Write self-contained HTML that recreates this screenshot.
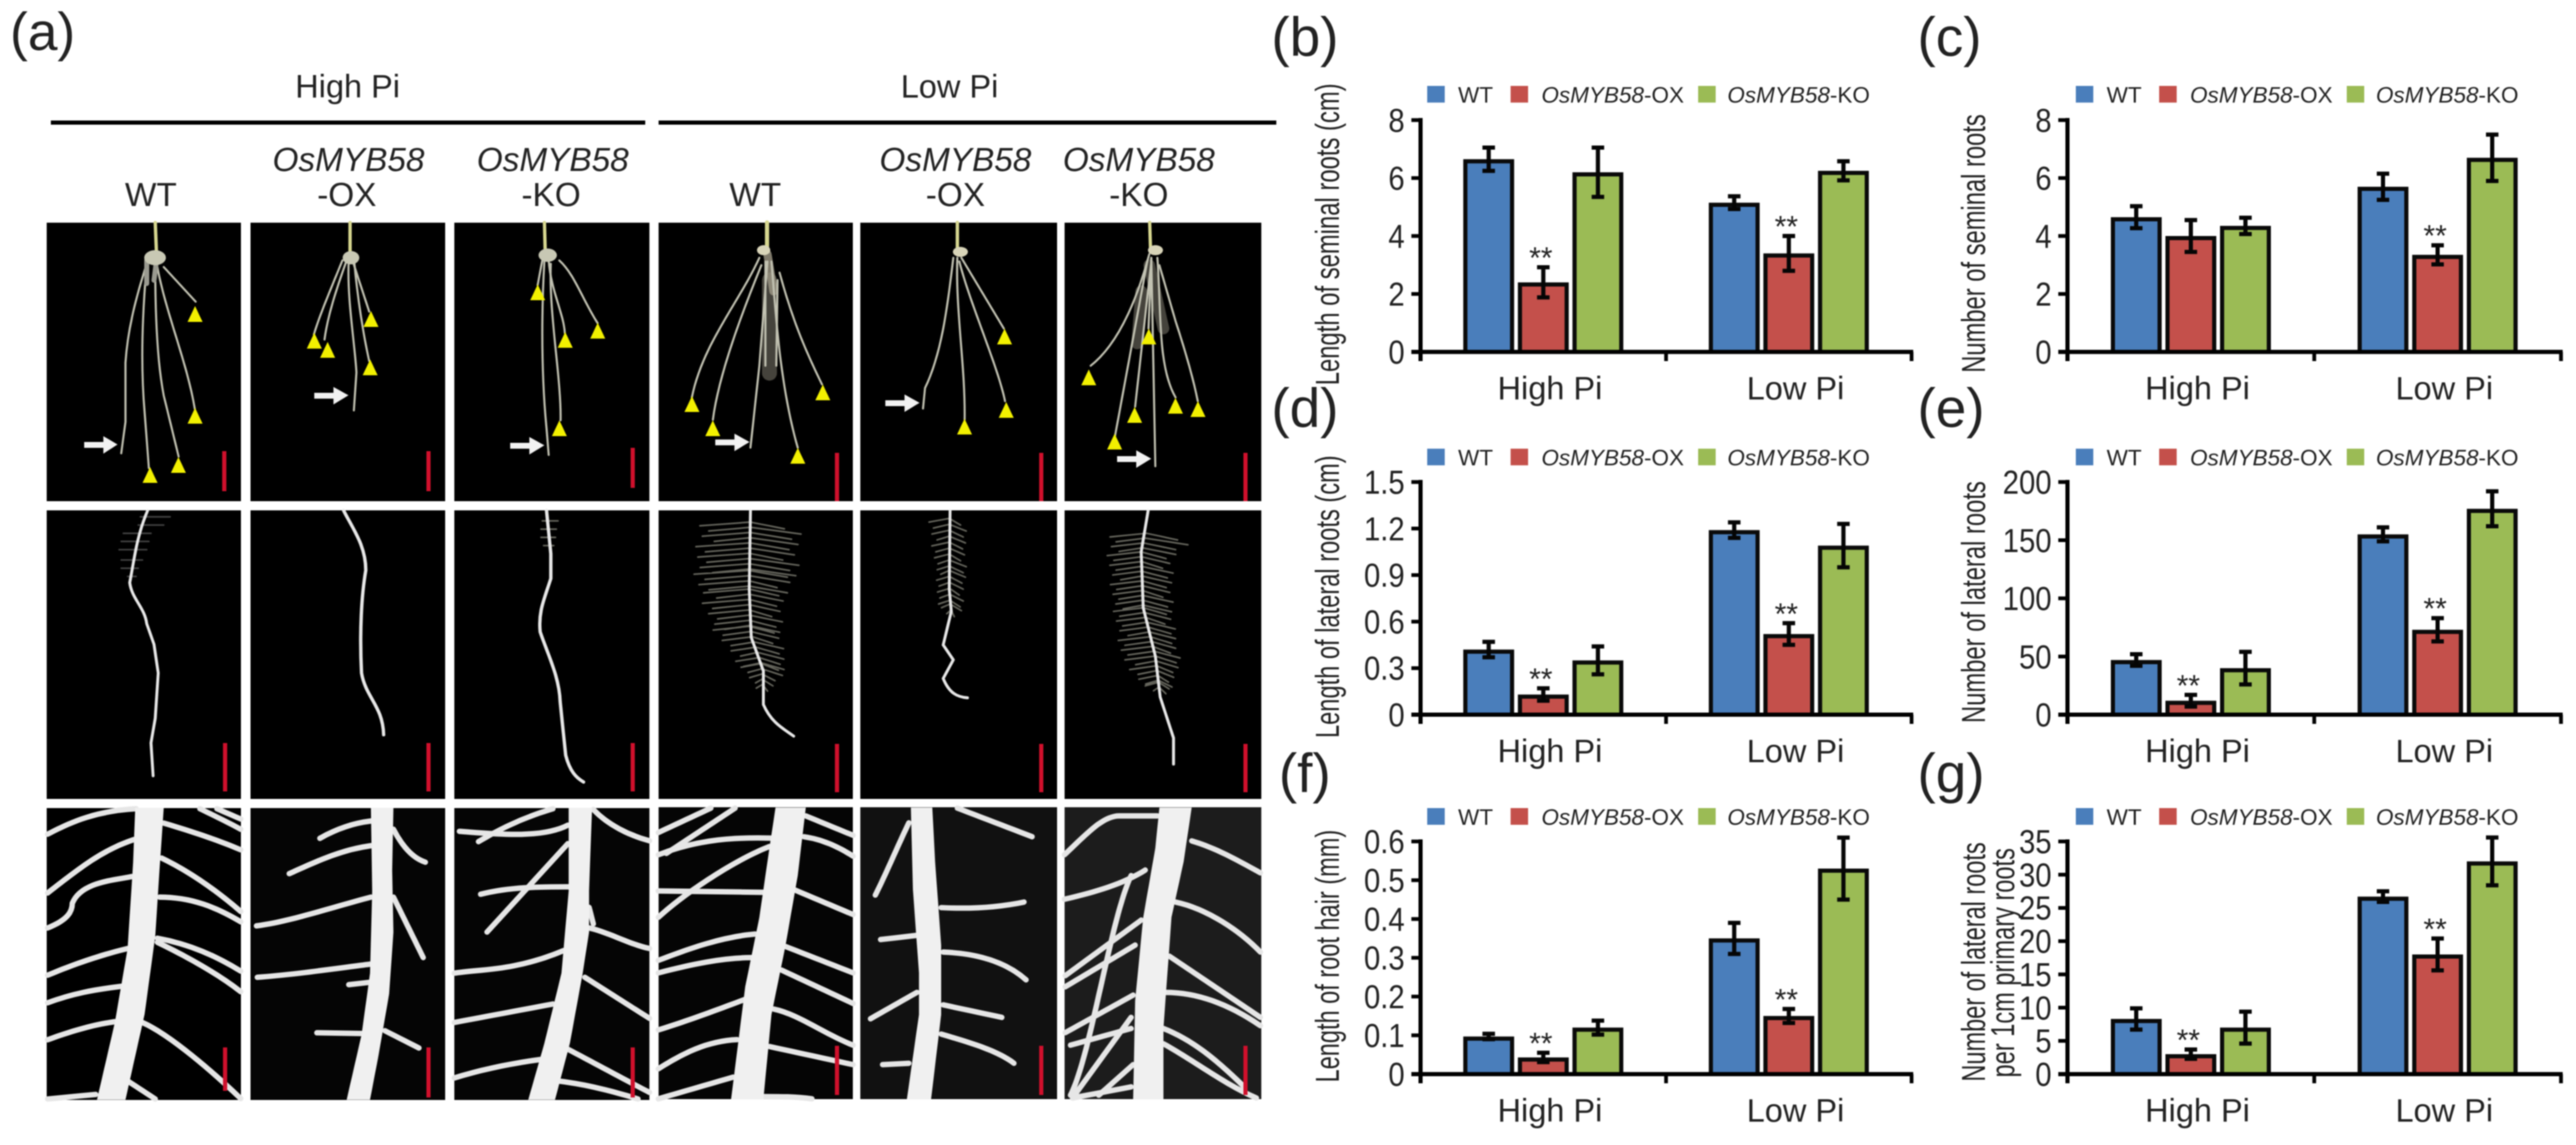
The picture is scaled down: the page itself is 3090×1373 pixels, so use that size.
<!DOCTYPE html>
<html lang="en">
<head>
<meta charset="utf-8">
<title>OsMYB58 root phenotype figure</title>
<style>
html,body{margin:0;padding:0;background:#fff;width:3090px;height:1373px;overflow:hidden}
svg{position:absolute;left:0;top:0;filter:blur(.8px)}
text{font-family:"Liberation Sans",sans-serif;fill:#222}
.r1 path,.r2 path,.r3 path,.hair{fill:none;stroke-linecap:round;stroke-linejoin:round;vector-effect:non-scaling-stroke}
.r1 path{stroke:#c2c2b2;stroke-width:2.5}
.r2 path{stroke:#e8e8e8;stroke-width:3.5}
.r3 path{stroke:#e6e6e6;stroke-width:6.5}
.r2 path.hair,.r2 .hair{stroke:#b8b8a8;stroke-width:2;opacity:.55}
.main{fill:#f0f0f0;stroke:none}
.mk{fill:#f2f000}
.sc{fill:#d0102c}
.ar{fill:#f2f2f2}
</style>
</head>
<body>
<svg id="figure" xmlns="http://www.w3.org/2000/svg" width="3090" height="1373" viewBox="0 0 3090 1373">
<rect width="3090" height="1373" fill="#fff"/>

<g>
<text x="12" y="60" font-size="64">(a)</text>
<text x="417" y="117" font-size="39" text-anchor="middle">High Pi</text>
<text x="1139" y="117" font-size="39" text-anchor="middle">Low Pi</text>
<rect x="61" y="144.500" width="713" height="5" fill="#000"/>
<rect x="790" y="144.500" width="741" height="5" fill="#000"/>
<text x="181" y="247" font-size="40" text-anchor="middle">WT</text>
<text x="418" y="205" font-size="40" text-anchor="middle" font-style="italic">OsMYB58</text>
<text x="416" y="247" font-size="40" text-anchor="middle">-OX</text>
<text x="663" y="205" font-size="40" text-anchor="middle" font-style="italic">OsMYB58</text>
<text x="661" y="247" font-size="40" text-anchor="middle">-KO</text>
<text x="906" y="247" font-size="40" text-anchor="middle">WT</text>
<text x="1146" y="205" font-size="40" text-anchor="middle" font-style="italic">OsMYB58</text>
<text x="1146" y="247" font-size="40" text-anchor="middle">-OX</text>
<text x="1366" y="205" font-size="40" text-anchor="middle" font-style="italic">OsMYB58</text>
<text x="1366" y="247" font-size="40" text-anchor="middle">-KO</text>

<!-- ROW 1: whole root systems -->
<g>
<rect x="56" y="267" width="233" height="334" fill="#000"/>
<g class="r1" transform="scale(.5102,.3953)">
<path style="stroke:#d8d890;stroke-width:4" d="M365 675L368 770"/>
<path d="M345 800C320 900 300 1000 295 1100L295 1280L285 1375"/>
<path d="M345 800C335 950 330 1100 340 1250L350 1420"/>
<path d="M365 810C365 950 370 1100 385 1200L420 1385"/>
<path d="M370 810C390 950 440 1100 458 1240"/>
<path d="M385 810L460 915"/>
<path style="stroke:#9a9a90;stroke-width:6" d="M345 790L345 860M368 790L362 850"/>
</g>
<ellipse cx="186" cy="309" rx="13" ry="9" fill="#c8c8b4"/>
<polygon class="mk" points="234,367 243,386 225,386"/><polygon class="mk" points="234,489 243,508 225,508"/><polygon class="mk" points="214,548 223,567 205,567"/><polygon class="mk" points="180,560 189,579 171,579"/>
<polygon class="ar" points="101,530 124,530 124,523 141,533 124,544 124,537 101,537"/>
<rect class="sc" x="266.500" y="541" width="5" height="48"/>
</g>

<g>
<rect x="300.500" y="267" width="233.500" height="334" fill="#000"/>
<g class="r1" transform="scale(.5102,.3953)">
<path style="stroke:#d8d890;stroke-width:4" d="M823 675L823 770"/>
<path d="M805 790C780 870 750 960 738 1015"/>
<path d="M815 790C790 880 770 960 763 1030"/>
<path d="M820 790C815 900 835 1050 838 1130L832 1245"/>
<path d="M830 795L868 945"/>
<path d="M833 795C840 900 855 1020 868 1095"/>
</g>
<ellipse cx="421" cy="309" rx="10" ry="8" fill="#c8c8b4"/>
<polygon class="mk" points="445,373 454,392 436,392"/><polygon class="mk" points="377,399 386,418 368,418"/><polygon class="mk" points="393,410 402,429 384,429"/><polygon class="mk" points="444,431 453,450 435,450"/>
<polygon class="ar" points="377,471 400,471 400,464 418,474 400,485 400,478 377,478"/>
<rect class="sc" x="511.500" y="541" width="5" height="48"/>
</g>

<g>
<rect x="545" y="267" width="234" height="334" fill="#000"/>
<g class="r1" transform="scale(.5102,.3953)">
<path style="stroke:#d8d890;stroke-width:4" d="M1280 675L1282 770"/>
<path d="M1275 790L1264 865"/>
<path d="M1280 790C1275 900 1270 1100 1285 1300L1290 1380"/>
<path d="M1290 790C1295 880 1325 950 1328 1010"/>
<path d="M1295 800C1290 950 1320 1150 1318 1275"/>
<path d="M1315 790C1350 830 1370 910 1405 980"/>
</g>
<ellipse cx="657" cy="306" rx="11" ry="8" fill="#c8c8b4"/>
<polygon class="mk" points="645,341 654,360 636,360"/><polygon class="mk" points="717,387 726,406 708,406"/><polygon class="mk" points="678,398 687,417 669,417"/><polygon class="mk" points="671,504 680,523 662,523"/>
<polygon class="ar" points="612,531 635,531 635,524 653,534 635,545 635,538 612,538"/>
<rect class="sc" x="756.500" y="537" width="5" height="48"/>
</g>

<g>
<rect x="790" y="267" width="233" height="334" fill="#000"/>
<g class="r1" transform="translate(780,260) scale(.4847,.4464)">
<path style="stroke:#d8d890;stroke-width:5" d="M289 15L289 85"/>
<path style="stroke:#8a8578;stroke-width:18;opacity:.5" d="M295 170L295 420"/>
<path style="stroke:#a09a88;stroke-width:10;opacity:.8" d="M290 100L305 200"/>
<path d="M270 110C220 230 130 340 103 485"/>
<path d="M275 130C230 250 170 420 155 545"/>
<path d="M290 120L270 400L248 620"/>
<path d="M300 120C310 250 320 450 365 620"/>
<path d="M320 150C350 270 380 350 425 450"/>
<path d="M285 120L285 400M315 170L312 400"/>
</g>
<ellipse cx="916" cy="300" rx="8" ry="6" fill="#d8d4b8"/>
<polygon class="mk" points="830,475 839,494 821,494"/><polygon class="mk" points="855,504 864,523 846,523"/><polygon class="mk" points="987,461 996,480 978,480"/><polygon class="mk" points="957,537 966,556 948,556"/>
<polygon class="ar" points="858,527 881,527 881,520 899,530 881,541 881,534 858,534"/>
<rect class="sc" x="1001.500" y="543" width="5" height="58"/>
</g>

<g>
<rect x="1032" y="267" width="236" height="334" fill="#000"/>
<g class="r1" transform="translate(780,260) scale(.4847,.4464)">
<path style="stroke:#d8d890;stroke-width:4" d="M760 15L760 85"/>
<path d="M750 110C735 250 720 370 680 460L675 515"/>
<path d="M760 110C755 250 780 400 778 545"/>
<path d="M765 120C790 230 860 400 878 495"/>
<path d="M770 110L875 300"/>
</g>
<ellipse cx="1152" cy="302" rx="9" ry="6" fill="#d8d4b8"/>
<polygon class="mk" points="1205,394 1214,413 1196,413"/><polygon class="mk" points="1207,482 1216,501 1198,501"/><polygon class="mk" points="1157,502 1166,521 1148,521"/>
<polygon class="ar" points="1062,480 1085,480 1085,473 1103,483 1085,494 1085,487 1062,487"/>
<rect class="sc" x="1246.500" y="543" width="5" height="58"/>
</g>

<g>
<rect x="1277" y="267" width="236" height="334" fill="#000"/>
<g class="r1" transform="translate(780,260) scale(.4847,.4464)">
<path style="stroke:#d8d890;stroke-width:4" d="M1236 15L1238 85"/>
<path style="stroke:#8a8578;stroke-width:14;opacity:.5" d="M1235 130L1270 300M1215 200L1205 340"/>
<path d="M1235 100C1205 220 1160 340 1090 400"/>
<path d="M1230 120L1150 590"/>
<path d="M1240 120L1200 510"/>
<path d="M1240 110L1233 300"/>
<path d="M1240 110L1250 670"/>
<path d="M1255 110C1265 250 1255 400 1300 485"/>
<path d="M1260 130L1300 280C1330 380 1345 440 1355 495"/>
</g>
<ellipse cx="1386" cy="300" rx="9" ry="6" fill="#d8d4b8"/>
<polygon class="mk" points="1378,394 1387,413 1369,413"/><polygon class="mk" points="1306,443 1315,462 1297,462"/><polygon class="mk" points="1361,488 1370,507 1352,507"/><polygon class="mk" points="1410,477 1419,496 1401,496"/><polygon class="mk" points="1437,481 1446,500 1428,500"/><polygon class="mk" points="1337,520 1346,539 1328,539"/>
<polygon class="ar" points="1340,547 1363,547 1363,540 1381,550 1363,561 1363,554 1340,554"/>
<rect class="sc" x="1491.500" y="543" width="5" height="58"/>
</g>

<!-- ROW 2: primary roots -->
<g>
<rect x="56" y="612" width="233" height="346" fill="#000"/>
<g class="r2" transform="translate(0,600) scale(.5102,.493)">
<path class="hair" style="stroke:#777;stroke-width:2" d="M330 40H400M325 60H385M290 80H355M285 100H350M280 120H345M285 145H335M285 165H325M300 185H320"/>
<path d="M347 25C320 90 315 150 305 200C310 240 340 260 345 300L362 350L372 420L365 530L355 590L360 670"/>
</g>
<rect class="sc" x="267.500" y="891" width="5" height="58"/>
</g>
<g>
<rect x="300.500" y="612" width="233.500" height="346" fill="#000"/>
<g class="r2" transform="translate(0,600) scale(.5102,.493)">
<path style="stroke-width:4" d="M808 25C830 70 860 110 860 170C850 230 845 320 850 420C860 480 900 500 902 570"/>
</g>
<rect class="sc" x="511.500" y="891" width="5" height="58"/>
</g>
<g>
<rect x="545" y="612" width="234" height="346" fill="#000"/>
<g class="r2" transform="translate(0,600) scale(.5102,.493)">
<path class="hair" d="M1275 50H1312M1272 70H1308M1272 90H1306M1278 110H1302"/>
<path style="stroke-width:4" d="M1285 25L1295 130L1295 190C1280 240 1265 270 1270 320C1290 380 1315 430 1317 490L1330 620C1340 660 1355 675 1372 685"/>
</g>
<rect class="sc" x="756.500" y="891" width="5" height="58"/>
</g>
<g>
<rect x="790" y="612" width="233" height="346" fill="#000"/>
<g class="r2" transform="translate(780,260) scale(.4847,.4464)">
<path class="hair" id="fish-wt" d=""/>
<path d="M248 790L245 1000L250 1130L280 1220L280 1310C300 1360 330 1375 355 1395"/>
</g>
<rect class="sc" x="1001.500" y="892" width="5" height="58"/>
</g>
<g>
<rect x="1032" y="612" width="236" height="346" fill="#000"/>
<g class="r2" transform="translate(780,260) scale(.4847,.4464)">
<path class="hair" id="fish-ox" d=""/>
<path d="M742 790L740 1000L745 1060L725 1150L750 1190L725 1240C740 1280 760 1290 785 1292"/>
</g>
<rect class="sc" x="1246.500" y="892" width="5" height="58"/>
</g>
<g>
<rect x="1277" y="612" width="236" height="346" fill="#000"/>
<g class="r2" transform="translate(780,260) scale(.4847,.4464)">
<path class="hair" id="fish-ko" d=""/>
<path d="M1232 790L1215 900L1220 1050L1250 1180L1262 1290L1295 1400L1295 1470"/>
</g>
<rect class="sc" x="1491.500" y="892" width="5" height="58"/>
</g>

<!-- ROW 3: close-ups -->
<g>
<rect x="56" y="969" width="233" height="350" fill="#000"/>
<g class="r3" transform="translate(0,600) scale(.5102,.493)">
<path d="M112 812C170 780 230 755 320 750"/><path d="M112 955C180 900 240 850 315 825"/><path d="M112 1040C160 1020 170 1000 170 980C190 930 260 925 310 915"/><path d="M112 1155C180 1125 240 1105 300 1090"/><path d="M112 1222C170 1200 220 1190 285 1182"/><path d="M112 1312C170 1290 220 1275 270 1268"/><path d="M112 1456L225 1445"/>
<path d="M385 785C450 805 510 825 566 850"/><path d="M470 750C510 770 540 785 566 800"/><path d="M510 750L566 775"/><path d="M380 870C450 905 510 950 566 1000"/><path d="M375 965C450 965 510 990 566 1025"/><path d="M370 1065C450 1080 510 1110 566 1145"/><path d="M370 1075C440 1110 510 1150 566 1195"/><path d="M335 1270C400 1300 500 1390 566 1455"/><path d="M300 1412L365 1456"/>
<polygon class="main" points="318,748 385,748 375,900 365,1060 340,1250 295,1458 228,1458 270,1270 300,1090 313,880"/>
</g>
<rect class="sc" x="267.500" y="1256" width="5" height="52"/>
</g>
<g>
<rect x="300.500" y="969" width="233.500" height="350" fill="#050505"/>
<g class="r3" transform="translate(0,600) scale(.5102,.493)">
<path d="M752 822C790 800 830 785 872 780"/><path d="M680 908C740 880 800 850 872 840"/><path d="M603 1035C680 1025 780 990 872 965"/><path d="M605 1160C680 1155 780 1140 870 1128"/><path d="M820 1178L870 1172"/><path d="M745 1295L860 1297"/>
<path d="M925 800C945 840 970 870 1000 880"/><path d="M925 965L995 1112"/><path d="M905 1290L985 1332"/>
<polygon class="main" points="872,748 925,748 922,900 925,1050 915,1200 890,1350 870,1458 815,1458 850,1300 870,1150 875,950"/>
</g>
<rect class="sc" x="511.500" y="1256" width="5" height="60"/>
</g>
<g>
<rect x="545" y="969" width="234" height="350" fill="#050505"/>
<g class="r3" transform="translate(0,600) scale(.5102,.493)">
<path d="M1080 805C1150 810 1270 825 1335 790"/><path d="M1125 830C1190 790 1250 765 1300 750"/><path d="M1130 958C1200 940 1270 940 1340 940"/><path d="M1145 1050L1335 835"/><path d="M1068 1150C1130 1140 1210 1145 1325 1095"/><path d="M1068 1270L1300 1225"/><path d="M1068 1405C1130 1385 1200 1370 1270 1360"/>
<path d="M1395 752C1430 790 1480 815 1527 828"/><path d="M1385 1040C1430 1050 1480 1080 1527 1090"/><path d="M1385 990L1395 1030"/><path d="M1375 1160L1527 1260"/><path d="M1335 1335C1400 1370 1470 1410 1527 1440"/><path d="M1310 1412C1380 1420 1450 1440 1500 1456"/>
<polygon class="main" points="1337,748 1392,748 1385,950 1385,1050 1370,1150 1340,1320 1305,1458 1242,1458 1280,1320 1320,1150 1337,950"/>
</g>
<rect class="sc" x="756.500" y="1256" width="5" height="60"/>
</g>
<g>
<rect x="790" y="968" width="233" height="350" fill="#050505"/>
<g class="r3" transform="translate(780,900) scale(.4847,.3333)">
<path d="M20 295L150 207"/><path d="M40 370L210 207"/><path d="M20 375C100 330 180 310 300 315"/><path d="M20 600C80 520 200 400 295 345"/><path d="M20 505L280 510"/><path d="M20 755C100 710 180 670 260 660"/><path d="M20 800C100 770 180 745 250 745"/><path d="M20 1005C100 970 170 930 235 895"/><path d="M20 1145C80 1090 140 1045 215 1040"/><path d="M20 1253L205 1175"/>
<path d="M385 235L502 305"/><path d="M380 310C430 320 470 350 502 380"/><path d="M355 500L502 590"/><path d="M335 705L502 800"/><path d="M325 790L502 910"/><path d="M305 930C370 950 430 1020 502 1060"/><path d="M295 1065L502 1130"/><path d="M280 1245C320 1245 360 1245 400 1253"/>
<polygon class="main" points="310,205 385,205 365,450 335,700 300,950 280,1255 200,1255 235,850 270,600 295,350"/>
</g>
<rect class="sc" x="1001.500" y="1254" width="5" height="59"/>
</g>
<g>
<rect x="1032" y="968" width="236" height="350" fill="#111"/>
<g class="r3" transform="translate(780,900) scale(.4847,.3333)">
<path d="M640 260C610 350 585 440 557 520"/><path d="M720 565C790 570 860 565 925 545"/><path d="M570 680L660 665"/><path d="M725 725C810 730 880 760 930 825"/><path d="M545 965L660 870"/><path d="M725 915L870 960"/><path d="M720 1020C790 1050 860 1080 900 1125"/><path d="M575 1130L640 1125"/><path d="M760 207L945 310"/>
<polygon class="main" points="645,205 698,205 705,400 720,700 720,950 695,1255 635,1255 665,950 665,800 650,500"/>
</g>
<rect class="sc" x="1246.500" y="1254" width="5" height="59"/>
</g>
<g>
<rect x="1277" y="968" width="236" height="350" fill="#1c1c1c"/>
<g class="r3" transform="translate(780,900) scale(.4847,.3333)">
<path d="M1025 375C1080 300 1120 235 1160 235L1255 235"/><path d="M1025 535C1100 510 1170 480 1225 430"/><path d="M1340 325C1400 350 1460 400 1510 440"/><path d="M1300 545C1380 570 1460 650 1510 725"/><path d="M1285 740L1510 960"/><path d="M1275 870C1360 870 1440 920 1510 990"/><path d="M1270 1000C1340 1040 1400 1110 1470 1210"/><path d="M1270 1055C1340 1110 1420 1200 1500 1250"/>
<path d="M1040 1240C1090 1100 1140 600 1190 450"/><path d="M1027 810L1215 610"/><path d="M1027 850L1200 700"/><path d="M1027 1015L1195 880"/><path d="M1040 1060L1190 1000"/><path d="M1050 1240L1190 960"/><path d="M1045 1250L1190 1210"/><path d="M1110 1240L1195 1130"/>
<polygon class="main" points="1260,205 1340,205 1320,400 1290,600 1280,800 1270,1000 1270,1255 1195,1255 1200,900 1220,600 1250,350"/>
</g>
<rect class="sc" x="1491.500" y="1254" width="5" height="59"/>
</g>
</g>

<text x="1525" y="67" font-size="66">(b)</text>
<text x="2300" y="67" font-size="66">(c)</text>
<text x="1525" y="512" font-size="66">(d)</text>
<text x="2300" y="512" font-size="66">(e)</text>
<text x="1534" y="950" font-size="66">(f)</text>
<text x="2300" y="950" font-size="66">(g)</text>
</svg>

<script>
// ---- shared categories and series ----
const categories = ['High Pi', 'Low Pi'];
const seriesNames = ['WT', 'OsMYB58-OX', 'OsMYB58-KO'];
const seriesColors = ['#4a7ebb', '#c4504b', '#9bbb55'];
const seriesKeys = ['wt', 'ox', 'ko'];

// ---- (b) length of seminal roots ----
const ticksB = ['0', '2', '4', '6', '8'];
const wtB = [6.65, 5.15];
const oxB = [2.4, 3.4];
const koB = [6.2, 6.25];
const wtErrB = [0.4, 0.22];
const oxErrB = [0.52, 0.6];
const koErrB = [0.85, 0.33];
const starsB = [1, 1];

// ---- (c) number of seminal roots ----
const ticksC = ['0', '2', '4', '6', '8'];
const wtC = [4.65, 5.7];
const oxC = [4.0, 3.35];
const koC = [4.35, 6.7];
const wtErrC = [0.38, 0.45];
const oxErrC = [0.55, 0.33];
const koErrC = [0.28, 0.8];
const starsC = [0, 1];

// ---- (d) length of lateral roots ----
const ticksD = ['0', '0.3', '0.6', '0.9', '1.2', '1.5'];
const wtD = [0.42, 1.19];
const oxD = [0.13, 0.52];
const koD = [0.35, 1.09];
const wtErrD = [0.05, 0.05];
const oxErrD = [0.04, 0.07];
const koErrD = [0.09, 0.14];
const starsD = [1, 1];

// ---- (e) number of lateral roots ----
const ticksE = ['0', '50', '100', '150', '200'];
const wtE = [47, 155];
const oxE = [12, 73];
const koE = [40, 177];
const wtErrE = [5, 6];
const oxErrE = [5, 10];
const koErrE = [14, 15];
const starsE = [1, 1];

// ---- (f) length of root hair ----
const ticksF = ['0', '0.1', '0.2', '0.3', '0.4', '0.5', '0.6'];
const wtF = [0.097, 0.35];
const oxF = [0.043, 0.15];
const koF = [0.12, 0.53];
const wtErrF = [0.007, 0.04];
const oxErrF = [0.012, 0.018];
const koErrF = [0.018, 0.08];
const starsF = [1, 1];

// ---- (g) lateral roots per 1 cm primary root ----
const ticksG = ['0', '5', '10', '15', '20', '25', '30', '35'];
const wtG = [8.3, 26.7];
const oxG = [3.0, 18];
const koG = [7.0, 32];
const wtErrG = [1.6, 0.8];
const oxErrG = [0.7, 2.4];
const koErrG = [2.4, 3.6];
const starsG = [1, 1];

const SVGNS = 'http://www.w3.org/2000/svg';
const figure = document.getElementById('figure');

function make(tag, parent) {
  const n = document.createElementNS(SVGNS, tag);
  parent.appendChild(n);
  return n;
}
function put(n, pairs) {
  for (const k in pairs) n.setAttribute(k, pairs[k]);
  return n;
}

function drawChart(c) {
  const g = make('g', figure);
  
  

  const maxV = Number(c.ticks[c.ticks.length - 1]);
  const yScale = function (v) { return c.y0 - (v / maxV) * (c.y0 - c.yTop); };
  const band = (c.x1 - c.x0) / categories.length;
  const xCat = function (i) { return c.x0 + (i + 0.5) * band; };
  const xBar = function (i, s) { return xCat(i) + (s - 1) * 65.5; };

  // legend
  const legend = make('g', g);
  
  
  const legendOffsets = [[8, 45], [108, 145], [333, 368]];
  seriesNames.forEach(function (name, s) {
    const swatch = make('rect', legend);
    
    
    put(swatch, { x: c.x0 + c.legendShift + legendOffsets[s][0], y: c.legendY - 10, width: 21, height: 20, fill: seriesColors[s] });
    const label = make('text', legend);
    
    
    put(label, { x: c.x0 + c.legendShift + legendOffsets[s][1], y: c.legendY + 10, 'font-size': 27 });
    if (s === 0) {
      label.textContent = name;
    } else {
      const parts = name.split('-');
      const it = make('tspan', label);
      it.setAttribute('font-style', 'italic');
      it.textContent = parts[0];
      const rest = make('tspan', label);
      rest.textContent = '-' + parts[1];
    }
  });

  // bars
  c.series.forEach(function (vals, s) {
    vals.forEach(function (v, i) {
      const bar = make('rect', g);
      
      
      put(bar, { x: xBar(i, s) - 28, y: yScale(v) + 2.5, width: 56, height: c.y0 - yScale(v) - 2.5, fill: seriesColors[s], stroke: '#0a0a0a', 'stroke-width': 5 });
    });
  });

  // error bars
  c.errors.forEach(function (errs, s) {
    errs.forEach(function (e, i) {
      const v = c.series[s][i];
      const x = xBar(i, s);
      const path = make('path', g);
      
      
      const top = yScale(v + e), bot = yScale(v - e);
      put(path, { d: 'M' + x + ' ' + top + 'V' + bot, stroke: '#050505', 'stroke-width': 5, fill: 'none' });
      const caps = make('path', g);
      
      
      put(caps, { d: 'M' + (x - 7.5) + ' ' + top + 'H' + (x + 7.5) + 'M' + (x - 7.5) + ' ' + bot + 'H' + (x + 7.5), stroke: '#050505', 'stroke-width': 5, fill: 'none' });
    });
  });

  // significance stars
  c.stars.forEach(function (flag, i) {
    if (!flag) return;
    const star = make('text', g);
    
    
    put(star, { x: xBar(i, 1) - 3, y: yScale(c.series[1][i] + c.errors[1][i]) + 1, 'font-size': 36, 'text-anchor': 'middle' });
    star.textContent = '**';
  });

  // y axis
  const yAxis = make('path', g);
  
  
  put(yAxis, { d: 'M' + c.x0 + ' ' + (c.yTop - 2.5) + 'V' + (c.y0 + 11), stroke: '#000', 'stroke-width': 5, fill: 'none' });
  c.ticks.forEach(function (t) {
    const y = yScale(Number(t));
    const tick = make('path', g);
    
    
    put(tick, { d: 'M' + (c.x0 - 11) + ' ' + y + 'H' + c.x0, stroke: '#000', 'stroke-width': 4.5, fill: 'none' });
    const label = make('text', g);
    
    
    put(label, { transform: 'translate(' + (c.x0 - 19) + ',' + (y + 14) + ') scale(.88,1)', 'font-size': 40, 'text-anchor': 'end' });
    label.textContent = t;
  });

  // x axis
  const xAxis = make('path', g);
  
  
  put(xAxis, { d: 'M' + (c.x0 - 11) + ' ' + c.y0 + 'H' + (c.x1 + 2), stroke: '#000', 'stroke-width': 5, fill: 'none' });
  [0, 1, 2].forEach(function (i) {
    const tx = c.x0 + i * band;
    const tick = make('path', g);
    
    
    put(tick, { d: 'M' + tx + ' ' + c.y0 + 'V' + (c.y0 + 11), stroke: '#000', 'stroke-width': 4.5, fill: 'none' });
  });
  categories.forEach(function (cat, i) {
    const label = make('text', g);
    
    
    put(label, { x: xCat(i) + 8, y: c.y0 + 57, 'font-size': 39, 'text-anchor': 'middle' });
    label.textContent = cat;
  });

  // y title(s)
  c.titles.forEach(function (t, i) {
    const title = make('text', g);
    
    
    put(title, { transform: 'translate(' + t.x + ',' + t.bottom + ') rotate(-90)', 'font-size': 40, textLength: t.bottom - t.top, lengthAdjust: 'spacingAndGlyphs', fill: '#333' });
    title.textContent = t.text;
  });
}

const charts = [
  { key: 'seminal-length', x0: 1704, x1: 2293, y0: 422, yTop: 144, legendY: 113, legendShift: 0, ticks: ticksB, series: [wtB, oxB, koB], errors: [wtErrB, oxErrB, koErrB], stars: starsB,
    titles: [{ text: 'Length of seminal roots (cm)', x: 1606, top: 100, bottom: 462 }] },
  { key: 'seminal-number', x0: 2480, x1: 3072, y0: 422, yTop: 144, legendY: 113, legendShift: 2, ticks: ticksC, series: [wtC, oxC, koC], errors: [wtErrC, oxErrC, koErrC], stars: starsC,
    titles: [{ text: 'Number of seminal roots', x: 2381, top: 137, bottom: 447 }] },
  { key: 'lateral-length', x0: 1704, x1: 2293, y0: 857, yTop: 578, legendY: 548, legendShift: 0, ticks: ticksD, series: [wtD, oxD, koD], errors: [wtErrD, oxErrD, koErrD], stars: starsD,
    titles: [{ text: 'Length of lateral roots (cm)', x: 1606, top: 546, bottom: 885 }] },
  { key: 'lateral-number', x0: 2480, x1: 3072, y0: 857, yTop: 578, legendY: 548, legendShift: 2, ticks: ticksE, series: [wtE, oxE, koE], errors: [wtErrE, oxErrE, koErrE], stars: starsE,
    titles: [{ text: 'Number of lateral roots', x: 2381, top: 577, bottom: 867 }] },
  { key: 'root-hair-length', x0: 1704, x1: 2293, y0: 1288, yTop: 1009, legendY: 979, legendShift: 0, ticks: ticksF, series: [wtF, oxF, koF], errors: [wtErrF, oxErrF, koErrF], stars: starsF,
    titles: [{ text: 'Length of root hair (mm)', x: 1606, top: 995, bottom: 1298 }] },
  { key: 'lateral-density', x0: 2480, x1: 3072, y0: 1288, yTop: 1009, legendY: 979, legendShift: 2, ticks: ticksG, series: [wtG, oxG, koG], errors: [wtErrG, oxErrG, koErrG], stars: starsG,
    titles: [{ text: 'Number of lateral roots', x: 2381, top: 1010, bottom: 1297 }, { text: 'per 1cm primary roots', x: 2416, top: 1017, bottom: 1292 }] }
];
charts.forEach(drawChart);

// ---- decorative lateral-root "fishbone" texture in the photographs ----
function fishbone(id, rows, step) {
  let d = '';
  let n = 0;
  const jitter = [1, .82, .94, .7, 1.05, .86];
  for (let r = 0; r < rows.length - 1; r++) {
    const a = rows[r], b = rows[r + 1];
    for (let y = a[0]; y < b[0]; y += step) {
      const t = (y - a[0]) / (b[0] - a[0]);
      const xc = a[1] + (b[1] - a[1]) * t;
      const l = (a[2] + (b[2] - a[2]) * t) * jitter[n % 6];
      const rr = (a[3] + (b[3] - a[3]) * t) * jitter[(n + 3) % 6];
      d += 'M' + xc + ' ' + y + 'L' + (xc - l) + ' ' + (y + 10) + 'M' + xc + ' ' + y + 'L' + (xc + rr) + ' ' + (y + 18);
      n++;
    }
  }
  document.getElementById(id).setAttribute('d', d);
}
fishbone('fish-wt', [[820, 248, 125, 120], [950, 245, 130, 115], [1000, 245, 120, 85], [1100, 245, 85, 75], [1200, 275, 50, 60], [1260, 278, 12, 12]], 14);
fishbone('fish-ox', [[810, 740, 50, 40], [950, 740, 30, 40], [1040, 742, 30, 28], [1060, 745, 5, 5]], 16);
fishbone('fish-ko', [[850, 1228, 90, 110], [900, 1215, 80, 75], [1050, 1220, 70, 70], [1180, 1250, 80, 60], [1250, 1258, 35, 30], [1275, 1260, 5, 5]], 13);
</script>
</body>
</html>
